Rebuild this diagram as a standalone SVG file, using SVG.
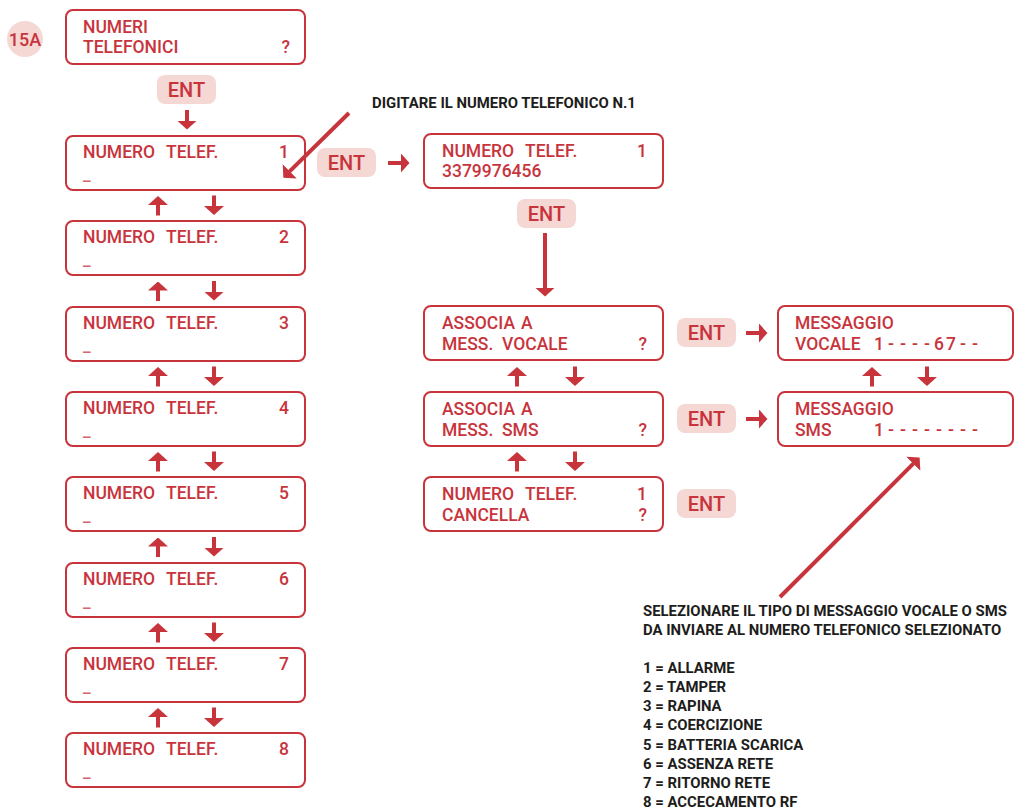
<svg xmlns="http://www.w3.org/2000/svg" width="1015" height="810" viewBox="0 0 1015 810">
<style>
  .box{fill:#fff;stroke:#c8343c;stroke-width:2}
  .pill{fill:#f5d8d4}
  .t{font-family:Roboto,"Liberation Sans",sans-serif;font-weight:500;font-size:17.5px;fill:#c8343c}
  .u{font-family:Roboto,"Liberation Sans",sans-serif;font-weight:500;font-size:17px;fill:#d4666d}
  .ent{font-family:Roboto,"Liberation Sans",sans-serif;font-weight:500;font-size:20px;fill:#c8343c;text-anchor:middle}
  .e{text-anchor:end}
  .m{text-anchor:middle}
  .note{font-family:Roboto,"Liberation Sans",sans-serif;font-weight:700;font-size:14.9px;fill:#1d1d1b}
  .c line{stroke:#c8343c;stroke-width:4;marker-end:url(#ah)}
</style>
<defs>
  <marker id="ah" viewBox="0 0 9 20" refX="0.5" refY="10" markerWidth="9" markerHeight="20" markerUnits="userSpaceOnUse" orient="auto">
    <path d="M0,0 L9,10 L0,20 z" fill="#c8343c"/>
  </marker>
</defs>
<rect width="1015" height="810" fill="#fff"/>

<g id="label15A">
  <circle cx="25" cy="39" r="18" class="pill"/>
  <text x="25" y="46" class="t m" style="font-size:18px">15A</text>
</g>

<g id="numeri-telefonici">
  <rect class="box" x="66" y="10" width="239" height="54" rx="7"/>
  <text x="83" y="33" class="t">NUMERI</text>
  <text x="83" y="53" class="t">TELEFONICI</text>
  <text x="290" y="53" class="t e">?</text>
</g>

<g id="ent-top"><rect class="pill" x="157" y="75" width="59" height="29" rx="8"/><text x="186.5" y="97" class="ent">ENT</text></g>

<g id="tel1"><rect class="box" x="66" y="136" width="239" height="54" rx="7"/><text x="83" y="158" class="t">NUMERO <tspan x="166">TELEF.</tspan></text><text x="289" y="158" class="t e">1</text><text x="83" y="180" class="u">_</text></g>
<g id="tel2"><rect class="box" x="66" y="221" width="239" height="54" rx="7"/><text x="83" y="243" class="t">NUMERO <tspan x="166">TELEF.</tspan></text><text x="289" y="243" class="t e">2</text><text x="83" y="265" class="u">_</text></g>
<g id="tel3"><rect class="box" x="66" y="307" width="239" height="54" rx="7"/><text x="83" y="329" class="t">NUMERO <tspan x="166">TELEF.</tspan></text><text x="289" y="329" class="t e">3</text><text x="83" y="351" class="u">_</text></g>
<g id="tel4"><rect class="box" x="66" y="392" width="239" height="54" rx="7"/><text x="83" y="414" class="t">NUMERO <tspan x="166">TELEF.</tspan></text><text x="289" y="414" class="t e">4</text><text x="83" y="436" class="u">_</text></g>
<g id="tel5"><rect class="box" x="66" y="477" width="239" height="54" rx="7"/><text x="83" y="499" class="t">NUMERO <tspan x="166">TELEF.</tspan></text><text x="289" y="499" class="t e">5</text><text x="83" y="521" class="u">_</text></g>
<g id="tel6"><rect class="box" x="66" y="563" width="239" height="54" rx="7"/><text x="83" y="585" class="t">NUMERO <tspan x="166">TELEF.</tspan></text><text x="289" y="585" class="t e">6</text><text x="83" y="607" class="u">_</text></g>
<g id="tel7"><rect class="box" x="66" y="648" width="239" height="54" rx="7"/><text x="83" y="670" class="t">NUMERO <tspan x="166">TELEF.</tspan></text><text x="289" y="670" class="t e">7</text><text x="83" y="692" class="u">_</text></g>
<g id="tel8"><rect class="box" x="66" y="733" width="239" height="54" rx="7"/><text x="83" y="755" class="t">NUMERO <tspan x="166">TELEF.</tspan></text><text x="289" y="755" class="t e">8</text><text x="83" y="777" class="u">_</text></g>

<g id="ent-tel1"><rect class="pill" x="317" y="148" width="59" height="29" rx="8"/><text x="346.5" y="170" class="ent">ENT</text></g>

<g id="tel1-number"><rect class="box" x="424" y="134" width="239" height="54" rx="7"/><text x="442" y="157" class="t">NUMERO <tspan x="525">TELEF.</tspan></text><text x="647" y="157" class="t e">1</text><text x="442" y="177" class="t">3379976456</text></g>

<g id="ent-number"><rect class="pill" x="517" y="199" width="59" height="29" rx="8"/><text x="546.5" y="221" class="ent">ENT</text></g>

<g id="assoc-vocale"><rect class="box" x="424" y="306" width="239" height="54" rx="7"/><text x="442" y="329" class="t">ASSOCIA <tspan x="521">A</tspan></text><text x="442" y="350" class="t">MESS. <tspan x="502">VOCALE</tspan></text><text x="647" y="350" class="t e">?</text></g>
<g id="assoc-sms"><rect class="box" x="424" y="392" width="239" height="54" rx="7"/><text x="442" y="415" class="t">ASSOCIA <tspan x="521">A</tspan></text><text x="442" y="436" class="t">MESS. <tspan x="502">SMS</tspan></text><text x="647" y="436" class="t e">?</text></g>
<g id="cancella"><rect class="box" x="424" y="477" width="239" height="54" rx="7"/><text x="442" y="500" class="t">NUMERO <tspan x="525">TELEF.</tspan></text><text x="647" y="500" class="t e">1</text><text x="442" y="521" class="t">CANCELLA</text><text x="647" y="521" class="t e">?</text></g>

<g id="ent-vocale"><rect class="pill" x="677" y="318" width="59" height="29" rx="8"/><text x="706.5" y="340" class="ent">ENT</text></g>
<g id="ent-sms"><rect class="pill" x="677" y="404" width="59" height="29" rx="8"/><text x="706.5" y="426" class="ent">ENT</text></g>
<g id="ent-cancella"><rect class="pill" x="677" y="489" width="59" height="29" rx="8"/><text x="706.5" y="511" class="ent">ENT</text></g>

<g id="msg-vocale"><rect class="box" x="778" y="306" width="235" height="54" rx="7"/><text x="795" y="329" class="t">MESSAGGIO</text><text x="795" y="350" class="t">VOCALE</text><text x="879 891 903 915 927 939 951 963 975" y="350" class="t m">1----67--</text></g>
<g id="msg-sms"><rect class="box" x="778" y="392" width="235" height="54" rx="7"/><text x="795" y="415" class="t">MESSAGGIO</text><text x="795" y="436" class="t">SMS</text><text x="879 891 903 915 927 939 951 963 975" y="436" class="t m">1--------</text></g>

<g id="note-digitare"><text x="372" y="108" class="note">DIGITARE IL NUMERO TELEFONICO N.1</text></g>

<g id="note-selezionare">
  <text x="643" y="616" class="note">SELEZIONARE IL TIPO DI MESSAGGIO VOCALE O SMS</text>
  <text x="643" y="635" class="note">DA INVIARE AL NUMERO TELEFONICO SELEZIONATO</text>
  <text x="643" y="673" class="note">1 = ALLARME</text>
  <text x="643" y="692" class="note">2 = TAMPER</text>
  <text x="643" y="711" class="note">3 = RAPINA</text>
  <text x="643" y="730" class="note">4 = COERCIZIONE</text>
  <text x="643" y="750" class="note">5 = BATTERIA SCARICA</text>
  <text x="643" y="769" class="note">6 = ASSENZA RETE</text>
  <text x="643" y="788" class="note">7 = RITORNO RETE</text>
  <text x="643" y="807" class="note">8 = ACCECAMENTO RF</text>
</g>

<g id="connectors" class="c">
  <line x1="187" y1="110" x2="187" y2="121"/>
  <line x1="158" y1="215.5" x2="158" y2="204.5"/><line x1="214" y1="195.5" x2="214" y2="206.5"/>
  <line x1="158" y1="301" x2="158" y2="290"/><line x1="214" y1="281" x2="214" y2="292"/>
  <line x1="158" y1="386.5" x2="158" y2="375.5"/><line x1="214" y1="366.5" x2="214" y2="377.5"/>
  <line x1="158" y1="471.5" x2="158" y2="460.5"/><line x1="214" y1="451.5" x2="214" y2="462.5"/>
  <line x1="158" y1="557" x2="158" y2="546"/><line x1="214" y1="537" x2="214" y2="548"/>
  <line x1="158" y1="642.5" x2="158" y2="631.5"/><line x1="214" y1="622.5" x2="214" y2="633.5"/>
  <line x1="158" y1="727.5" x2="158" y2="716.5"/><line x1="214" y1="707.5" x2="214" y2="718.5"/>
  <line x1="349" y1="113" x2="289.4" y2="171.7"/>
  <line x1="388" y1="163" x2="401" y2="163"/>
  <line x1="545" y1="233" x2="545" y2="288"/>
  <line x1="517" y1="386.5" x2="517" y2="375.5"/><line x1="575" y1="366.5" x2="575" y2="377.5"/>
  <line x1="517" y1="471.5" x2="517" y2="460.5"/><line x1="575" y1="451.5" x2="575" y2="462.5"/>
  <line x1="746" y1="333" x2="759" y2="333"/>
  <line x1="746" y1="419" x2="759" y2="419"/>
  <line x1="872" y1="386.5" x2="872" y2="375.5"/><line x1="927" y1="366.5" x2="927" y2="377.5"/>
  <line x1="780" y1="597" x2="913.6" y2="463.4"/>
</g>
</svg>
